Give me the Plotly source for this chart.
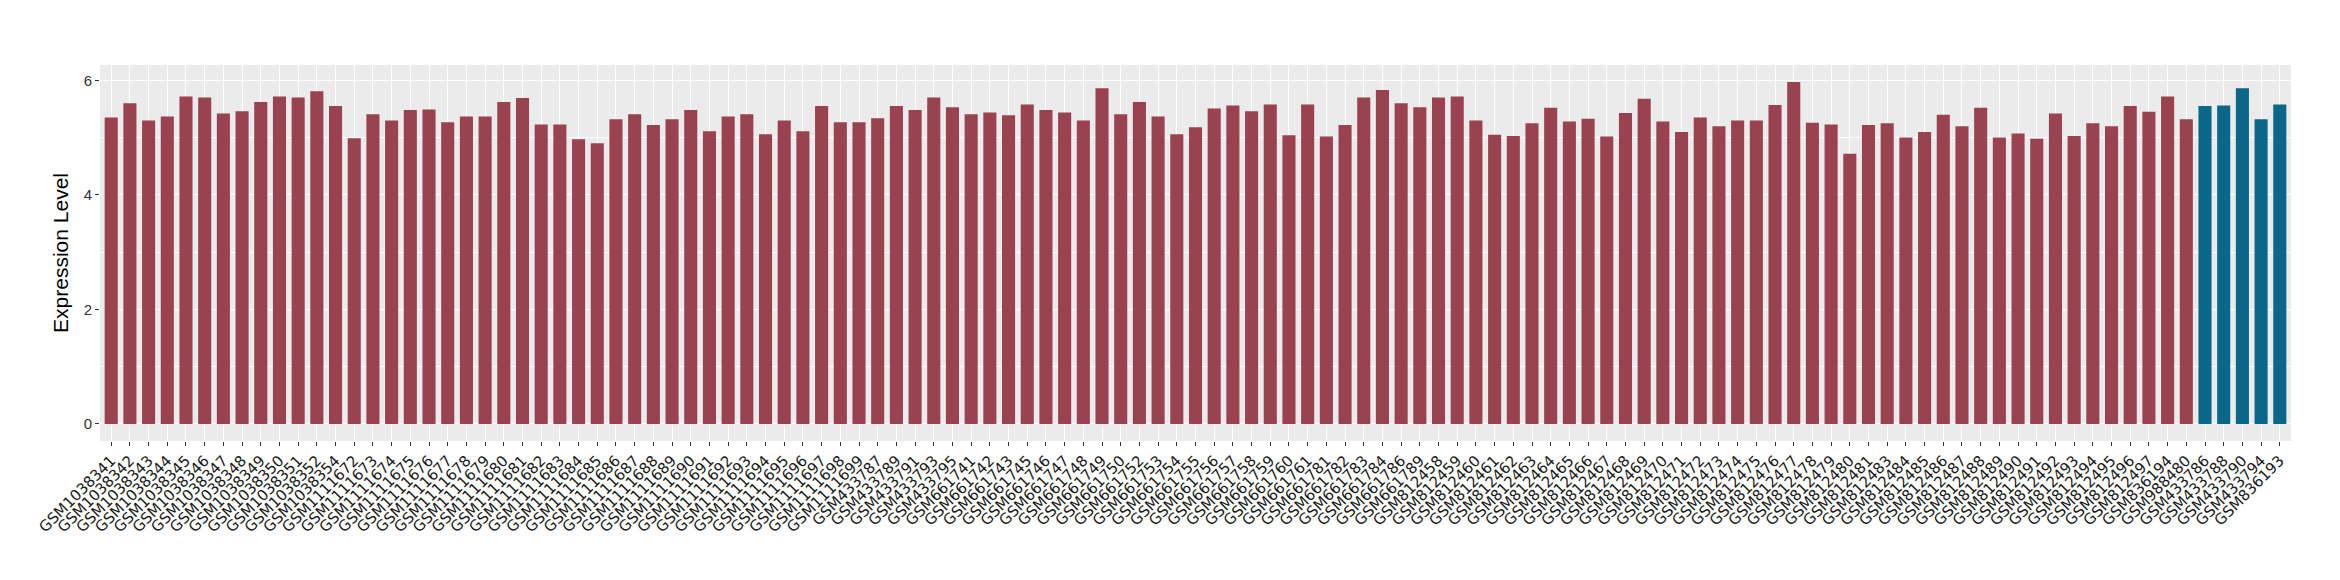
import plotly.graph_objects as go

# sample ids in plot order
samples = (
    ["GSM10383%02d" % n for n in range(41, 53)] + ["GSM1038354"]
    + ["GSM1111%d" % n for n in range(672, 700)]
    + ["GSM433787", "GSM433789", "GSM433791", "GSM433793", "GSM433795"]
    + ["GSM661%d" % n for n in [741, 742, 743, 745, 746, 747, 748, 749, 750, 752, 753,
                                 754, 755, 756, 757, 758, 759, 760, 761, 781, 782, 783,
                                 784, 786, 789]]
    + ["GSM812%d" % n for n in range(458, 498) if n != 482]
    + ["GSM836194", "GSM988480"]
    + ["GSM433786", "GSM433788", "GSM433790", "GSM433794", "GSM836193"]
)

expression = [
    5.35, 5.60, 5.30, 5.37, 5.72, 5.70, 5.42, 5.46, 5.62, 5.72, 5.70, 5.81, 5.55,
    4.99, 5.41, 5.30, 5.48, 5.49, 5.27, 5.37, 5.37, 5.62, 5.69, 5.23, 5.23, 4.97,
    4.90, 5.32, 5.41, 5.22, 5.32, 5.48, 5.11, 5.37, 5.41, 5.06, 5.30, 5.11, 5.55,
    5.27, 5.27,
    5.34, 5.55, 5.48, 5.70, 5.53,
    5.41, 5.44, 5.39, 5.58, 5.48, 5.44, 5.30, 5.86, 5.41, 5.62, 5.37, 5.06, 5.18,
    5.51, 5.56, 5.46, 5.58, 5.04, 5.58, 5.02, 5.22, 5.70, 5.83, 5.60, 5.53,
    5.70, 5.72, 5.30, 5.05, 5.03, 5.25, 5.52, 5.28, 5.33, 5.02, 5.43, 5.68, 5.28,
    5.10, 5.35, 5.20, 5.30, 5.30, 5.57, 5.97, 5.26, 5.23, 4.72, 5.22, 5.25, 5.00,
    5.10, 5.40, 5.20, 5.52, 5.00, 5.07, 4.98, 5.42, 5.03, 5.25, 5.20, 5.55, 5.45,
    5.72, 5.32,
    5.55, 5.56, 5.86, 5.32, 5.58,
]

group = ["other"] * 112 + ["target"] * 5
group_colors = {"other": "#9A4250", "target": "#0B6788"}

fig = go.Figure(go.Bar(
    x=samples,
    y=expression,
    width=0.7,
    marker=dict(color=[group_colors[g] for g in group], line=dict(width=0)),
    showlegend=False,
))

fig.update_layout(
    width=2340, height=580,
    margin=dict(l=92, r=57, t=57, b=147),
    plot_bgcolor="#EBEBEB",
    paper_bgcolor="white",
    font=dict(family="Liberation Sans, Arial, sans-serif", color="#333333"),
)

fig.update_xaxes(
    type="category",
    range=[-0.6, len(samples) - 0.4],
    tickmode="linear", tick0=0, dtick=1,
    tickangle=-45,
    tickfont=dict(family="DejaVu Sans", size=15, color="#1a1a1a"),
    ticklabeloverflow="allow",
    showgrid=True, gridcolor="white", gridwidth=1.1,
    ticks="outside", ticklen=4, tickcolor="#333333", tickwidth=1,
    zeroline=False, showline=False,
    automargin=False,
)

fig.update_yaxes(
    range=[-0.2985, 6.268],
    tickvals=[0, 2, 4, 6],
    tickfont=dict(size=15, color="#333333"),
    showgrid=True, gridcolor="white", gridwidth=1.1,
    minor=dict(dtick=1, tick0=0, showgrid=True, gridcolor="white", gridwidth=0.5),
    ticks="outside", ticklen=4, tickcolor="#333333", tickwidth=1,
    zeroline=False, showline=False,
    title=dict(text="Expression Level", font=dict(size=21, color="black"), standoff=9),
    automargin=False,
)

fig.write_html("out.html")
